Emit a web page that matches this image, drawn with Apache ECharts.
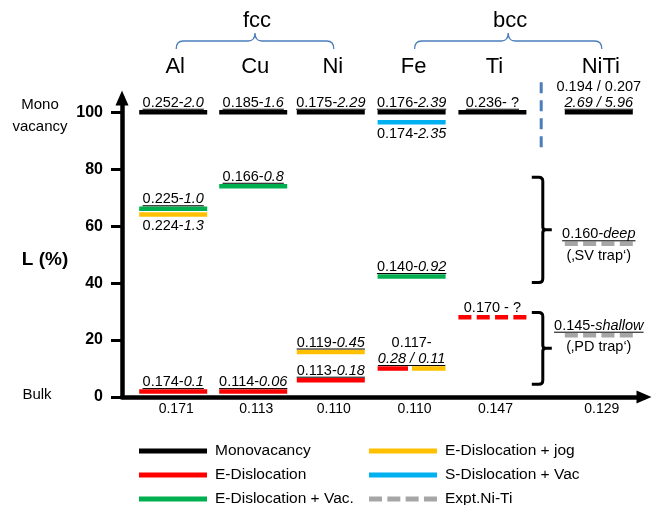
<!DOCTYPE html>
<html><head><meta charset="utf-8">
<script src="https://cdn.jsdelivr.net/npm/echarts@6/dist/echarts.min.js"></script>
<style>html,body{margin:0;padding:0;background:#fff}#c{width:659px;height:505px}</style>
</head><body><div id="c"></div>
<script>
const FONT = '"Liberation Sans", Arial, sans-serif';

// ---- data ----
const categories = ['Al', 'Cu', 'Ni', 'Fe', 'Ti', 'NiTi'];
const categoryX = [0.64, 1.64, 2.61, 3.62, 4.63, 5.96];
const bulkLabels = ['0.171', '0.113', '0.110', '0.110', '0.147', '0.129'];
const structureGroups = [['fcc', 'Al', 'Ni'], ['bcc', 'Fe', 'NiTi']];
const yTicks = [0, 20, 40, 60, 80, 100];

// [category, L (%), part, style]
const monovacancy = [['Al', 100], ['Cu', 100], ['Ni', 100], ['Fe', 100], ['Ti', 100], ['NiTi', 100]];
const eDislocation = [['Al', 1.9], ['Cu', 1.9], ['Ni', 5.9], ['Fe', 10, 'left'], ['Ti', 28, 'full', 'dashed']];
const eDislocationVac = [['Al', 66.1], ['Cu', 74], ['Fe', 42.3]];
const eDislocationJog = [['Al', 64.1], ['Ni', 15.8], ['Fe', 10, 'right']];
const sDislocationVac = [['Fe', 96.5]];
const exptNiTi = [['NiTi', 53.8, 'full', 'dashed'], ['NiTi', 21.7, 'full', 'dashed']];

// [category, L level, text row (+ above, - below), plain text, italic text, underlined]
const valueLabels = [
  ['Al', 100, 1, '0.252-', '2.0', 1],
  ['Cu', 100, 1, '0.185-', '1.6', 1],
  ['Ni', 100, 1, '0.175-', '2.29', 1],
  ['Fe', 100, 1, '0.176-', '2.39', 1],
  ['Ti', 100, 1, '0.236- ?', '', 1],
  ['NiTi', 100, 2, '0.194 / 0.207', '', 0],
  ['NiTi', 100, 1, '', '2.69 / 5.96', 1],
  ['Fe', 96.5, -1, '0.174-', '2.35', 0],
  ['Cu', 74, 1, '0.166-', '0.8', 1],
  ['Al', 66.1, 1, '0.225-', '1.0', 1],
  ['Al', 64.1, -1, '0.224-', '1.3', 0],
  ['Fe', 42.3, 1, '0.140-', '0.92', 1],
  ['NiTi', 53.8, 1, '0.160-', 'deep', 1],
  ['NiTi', 53.8, -1, '(\u201aSV trap\u2018)', '', 0],
  ['Ti', 28, 1, '0.170 - ?', '', 0],
  ['NiTi', 21.7, 1, '0.145-', 'shallow', 1],
  ['NiTi', 21.7, -1, '(\u201aPD trap\u2018)', '', 0],
  ['Ni', 15.8, 1, '0.119-', '0.45', 1],
  ['Fe', 10, 2, '0.117-', '', 0],
  ['Fe', 10, 1, '', '0.28 / 0.11', 1],
  ['Ni', 5.9, 1, '0.113-', '0.18', 1],
  ['Al', 1.9, 1, '0.174-', '0.1', 1],
  ['Cu', 1.9, 1, '0.114-', '0.06', 1]
];

// annotation spans (L %)
const trapBraces = [[77.2, 40.2], [29.7, 4.5]];
const braceX = 5.26;
const separatorX = 5.24;
const separatorSpan = [87.5, 110.5];

// ---- helpers ----
const HALF = 0.425;
const LS = 14.5;
const partCode = { full: 0, left: -1, right: 1 };
const idx = c => categories.indexOf(c);
const mctx = document.createElement('canvas').getContext('2d');
function textW(s, italic, size) {
  if (!s) return 0;
  mctx.font = (italic ? 'italic ' : '') + size + 'px ' + FONT;
  return mctx.measureText(s).width;
}
function segData(list) {
  return list.map(s => [categoryX[idx(s[0])], s[1], partCode[s[2] || 'full'], s[3] === 'dashed' ? 1 : 0]);
}
function segSeries(name, list, color) {
  return {
    name, type: 'custom', coordinateSystem: 'cartesian2d', itemStyle: { color },
    encode: { x: 0, y: 1 }, data: segData(list), z: 3, silent: true,
    renderItem: (params, api) => {
      const c = api.value(0), y = api.value(1), part = api.value(2), dashed = api.value(3);
      let x0 = c - HALF, x1 = c + HALF;
      if (part === -1) x1 = c - 0.045;
      if (part === 1) x0 = c + 0.005;
      const p0 = api.coord([x0, y]), p1 = api.coord([x1, y]);
      const style = { stroke: color, lineWidth: 4.5 };
      if (dashed) style.lineDash = [13, 5.33];
      return { type: 'line', shape: { x1: p0[0], y1: p0[1], x2: p1[0], y2: p1[1] }, style };
    }
  };
}
function txt(text, x, y, size, extra) {
  return { type: 'text', style: Object.assign({ text, x, y, fill: '#000', fontSize: size, fontFamily: FONT, align: 'center', verticalAlign: 'middle' }, extra || {}) };
}

const labelSeries = {
  type: 'custom', name: 'labels', coordinateSystem: 'cartesian2d', encode: { x: 0, y: 1 }, z: 5, silent: true,
  data: valueLabels.map((l, i) => [categoryX[idx(l[0])], l[1], i]),
  renderItem: (params, api) => {
    const l = valueLabels[api.value(2)];
    const p = api.coord([api.value(0), api.value(1)]);
    const row = l[2];
    const cy = p[1] + (row > 0 ? -9.5 - (row - 1) * 16 : 12 + (-row - 1) * 16);
    const plain = l[3], ital = l[4];
    let t = '';
    if (plain) t += '{n|' + plain + '}';
    if (ital) t += '{i|' + ital + '}';
    const children = [{
      type: 'text', style: {
        text: t, x: p[0], y: cy, align: 'center', verticalAlign: 'middle',
        rich: {
          n: { fontSize: LS, fontFamily: FONT, fill: '#000' },
          i: { fontSize: LS, fontFamily: FONT, fontStyle: 'italic', fill: '#000' }
        }
      }
    }];
    if (l[5]) {
      const w = textW(plain, false, LS) + textW(ital, true, LS);
      children.push({ type: 'line', shape: { x1: p[0] - w / 2, y1: cy + 6.5, x2: p[0] + w / 2, y2: cy + 6.5 }, style: { stroke: '#000', lineWidth: 1 } });
    }
    return { type: 'group', children };
  }
};

const annotationSeries = {
  type: 'custom', name: 'annotations', coordinateSystem: 'cartesian2d', encode: { x: 0, y: 1 }, z: 4, silent: true,
  data: [[0, 0]],
  renderItem: (params, api) => {
    const ch = [];
    const px = x => api.coord([x, 0])[0];
    const py = y => api.coord([0, y])[1];
    categories.forEach((c, i) => ch.push(txt(c, px(categoryX[i]) + 2, 67, 22)));
    bulkLabels.forEach((b, i) => ch.push(txt(b, px(categoryX[i]) + 3, py(0) + 12.5, 14)));
    structureGroups.forEach(g => {
      const xa = px(categoryX[idx(g[1])]) + 3, xb = px(categoryX[idx(g[2])]) + 3, xm = (xa + xb) / 2;
      ch.push(txt(g[0], xm + 2, 21, 22));
      ch.push({ type: 'path', shape: { pathData: `M${xa},49 Q${xa},41 ${xa + 7},41 L${xm - 7},41 Q${xm},41 ${xm},33 Q${xm},41 ${xm + 7},41 L${xb - 7},41 Q${xb},41 ${xb},49` },
        style: { stroke: '#4A7EBB', lineWidth: 1.3, fill: 'none' } });
    });
    const sx = px(separatorX);
    ch.push({ type: 'line', shape: { x1: sx, y1: py(separatorSpan[1]), x2: sx, y2: py(separatorSpan[0]) }, style: { stroke: '#4A7EBB', lineWidth: 3, lineDash: [11, 7] } });
    trapBraces.forEach(b => {
      const yT = py(b[0]), yB = py(b[1]), yM = (yT + yB) / 2, xv = px(braceX), xl = xv - 11;
      ch.push({ type: 'path', shape: { pathData: `M${xl},${yT} L${xv - 4},${yT} Q${xv},${yT} ${xv},${yT + 4} L${xv},${yM - 3} Q${xv},${yM} ${xv + 3},${yM} L${xv + 9},${yM} M${xv + 3},${yM} Q${xv},${yM} ${xv},${yM + 3} L${xv},${yB - 4} Q${xv},${yB} ${xv - 4},${yB} L${xl},${yB}` },
        style: { stroke: '#000', lineWidth: 3, fill: 'none' } });
    });
    ch.push(txt('Mono', 40, 105, 15));
    ch.push(txt('vacancy', 40, 126.5, 15));
    ch.push(txt('Bulk', 37, 395, 15));
    ch.push(txt('L (%)', 45, 260, 19, { fontWeight: 'bold' }));
    return { type: 'group', children: ch };
  }
};

const legendText = { fontSize: 15.5, fontFamily: FONT, color: '#000', padding: [0, 0, 0, 3] };
const dashIcon = 'path://M0,0H13V5H0Z M18.3,0H31.3V5H18.3Z M36.6,0H49.6V5H36.6Z M54.9,0H67.9V5H54.9Z';
const legendBase = { type: 'plain', orient: 'vertical', top: 443, height: 90, width: 230, padding: 0, itemWidth: 68, itemHeight: 5, itemGap: 8, selectedMode: false, textStyle: legendText };

const option = {
  animation: false,
  backgroundColor: '#fff',
  grid: { left: 122, right: 15, top: 98, bottom: 108 },
  xAxis: {
    type: 'value', min: 0, max: 6.525,
    axisLine: { show: true, onZero: false, lineStyle: { color: '#000', width: 4.5 }, symbol: ['none', 'triangle'], symbolSize: [13, 15] },
    axisTick: { show: false }, axisLabel: { show: false }, splitLine: { show: false }
  },
  yAxis: {
    type: 'value', min: 0, max: 105, interval: 20,
    axisLine: { show: true, lineStyle: { color: '#000', width: 4.5 }, symbol: ['none', 'triangle'], symbolSize: [13, 15] },
    axisTick: { show: true, length: 11, lineStyle: { color: '#000', width: 3 }, customValues: yTicks },
    axisLabel: { customValues: yTicks, fontWeight: 'bold', fontSize: 16, color: '#000', margin: 19, fontFamily: FONT },
    splitLine: { show: false }
  },
  legend: [
    Object.assign({}, legendBase, { left: 139,
      data: [{ name: 'Monovacancy', icon: 'rect' }, { name: 'E-Dislocation', icon: 'rect' }, { name: 'E-Dislocation + Vac.', icon: 'rect' }] }),
    Object.assign({}, legendBase, { left: 369,
      data: [{ name: 'E-Dislocation + jog', icon: 'rect' }, { name: 'S-Dislocation + Vac', icon: 'rect' }, { name: 'Expt.Ni-Ti', icon: dashIcon }] })
  ],
  series: [
    segSeries('Monovacancy', monovacancy, '#000000'),
    segSeries('E-Dislocation', eDislocation, '#FF0000'),
    segSeries('E-Dislocation + Vac.', eDislocationVac, '#00B050'),
    segSeries('E-Dislocation + jog', eDislocationJog, '#FFC000'),
    segSeries('S-Dislocation + Vac', sDislocationVac, '#00B0F0'),
    segSeries('Expt.Ni-Ti', exptNiTi, '#A6A6A6'),
    annotationSeries,
    labelSeries
  ]
};

const chart = echarts.init(document.getElementById('c'), null, { renderer: 'canvas' });
chart.setOption(option);
</script>
</body></html>
